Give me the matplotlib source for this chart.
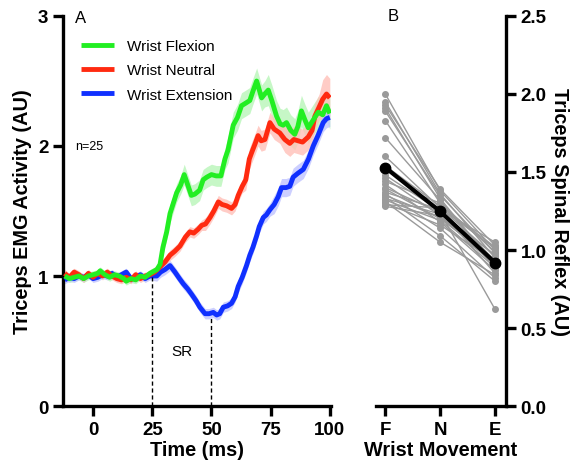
import numpy as np
import matplotlib
matplotlib.use("Agg")
import matplotlib.pyplot as plt

plt.rcParams['font.family'] = ['Liberation Sans', 'DejaVu Sans']

# ---------------- Panel A data (EMG time courses) ----------------
t_flex = [-12, -10, -8, -6, -4, -2, 0, 2, 3, 5, 7, 9, 11, 13, 14, 16, 18, 20, 22, 24,
          25, 27, 28.3, 29.5, 31.1, 32.5, 33.2, 35.3, 37, 38.5, 40, 41.5, 43, 45, 46.5, 48, 50, 52, 54, 55.7,
          57, 59.2, 61, 62.7, 64.5, 66.2, 67.5, 69.1, 71.2, 72.5, 74, 75.5, 77.5, 79, 80.3, 81.7, 83.5, 85.2, 86.5, 88,
          89.5, 90.9, 93, 95.1, 97, 98.6, 100]
v_flex = [1.00, 0.98, 0.99, 1.00, 0.98, 1.00, 1.01, 1.02, 1.04, 1.01, 0.99, 1.01, 1.00, 0.98, 0.96, 0.98, 0.97, 1.00, 0.99, 1.02,
          1.03, 1.05, 1.09, 1.22, 1.34, 1.48, 1.52, 1.64, 1.70, 1.78, 1.70, 1.62, 1.63, 1.66, 1.74, 1.76, 1.78, 1.77, 1.77, 1.90,
          1.97, 2.16, 2.22, 2.31, 2.33, 2.35, 2.42, 2.50, 2.37, 2.40, 2.43, 2.35, 2.23, 2.17, 2.16, 2.18, 2.12, 2.09, 2.15, 2.27,
          2.20, 2.14, 2.20, 2.26, 2.24, 2.31, 2.25]
sem_flex = [0.03] * 22 + [0.05, 0.06, 0.06, 0.07, 0.07, 0.07, 0.07, 0.08] + [0.08] * 10 + [0.10] * 10 + [0.12] * 17

t_neut = [-12, -10, -8, -6, -4, -2, 0, 2, 4, 6, 8, 10, 12, 14, 16, 18, 20, 22, 24,
          26, 28.3, 30.5, 32.5, 34.5, 36.7, 39, 40.9, 42.5, 44.4, 45.9, 47.5, 49.4, 51, 52.9, 54.5, 56.4, 58.5, 60, 61.3,
          63, 64.5, 66, 67, 68.5, 69.7, 71, 72.6, 74.7, 76.5, 78.9, 81, 83.1, 84.8, 86.6, 88.5, 90.9, 92.5, 93.7, 95.5,
          97, 98.6, 100]
v_neut = [1.02, 0.99, 1.03, 1.01, 0.98, 1.02, 0.99, 1.02, 1.00, 1.03, 1.00, 0.98, 0.97, 0.99, 0.97, 1.01, 0.98, 1.00, 1.01,
          1.03, 1.07, 1.11, 1.16, 1.19, 1.23, 1.30, 1.34, 1.33, 1.36, 1.39, 1.40, 1.45, 1.50, 1.57, 1.55, 1.54, 1.52, 1.55, 1.62,
          1.69, 1.74, 1.90, 1.95, 2.02, 2.08, 2.04, 2.05, 2.18, 2.13, 2.10, 2.05, 2.02, 2.05, 2.04, 2.03, 2.07, 2.12, 2.23, 2.30,
          2.36, 2.40, 2.37]
sem_neut = [0.03] * 20 + [0.04] * 10 + [0.05] * 10 + [0.08] * 10 + [0.10] * 9 + [0.15] * 3

t_ext = [-12, -10, -8, -6, -4, -2, 0, 2, 4, 6, 8, 10, 12, 14, 16, 18, 20, 22, 24,
         26.9, 28.5, 30.4, 32.5, 34.6, 36.5, 38.1, 40, 41.6, 43.5, 45.1, 47.3, 49, 50.8, 52.2, 53.5, 55, 56.8, 58.5, 60,
         61.3, 63, 64.8, 66.2, 67.5, 69.1, 70.2, 71.9, 73.2, 74.7, 76.5, 78.2, 79.6, 81.5, 83.1, 84.5, 86.5, 88.8, 91, 93,
         95, 97.2, 98.6, 100]
v_ext = [0.97, 0.99, 0.98, 1.00, 0.99, 1.01, 0.98, 0.99, 1.01, 1.00, 1.02, 0.99, 1.01, 1.03, 0.98, 0.99, 1.01, 0.98, 1.00,
         1.00, 1.03, 1.05, 1.08, 1.03, 0.98, 0.94, 0.90, 0.86, 0.81, 0.76, 0.71, 0.71, 0.72, 0.70, 0.71, 0.76, 0.77, 0.79, 0.84,
         0.92, 0.99, 1.08, 1.16, 1.22, 1.31, 1.38, 1.45, 1.47, 1.51, 1.55, 1.61, 1.68, 1.68, 1.69, 1.76, 1.79, 1.82, 1.90, 2.00,
         2.08, 2.18, 2.21, 2.22]
sem_ext = [0.03] * 19 + [0.04] * 20 + [0.05] * 10 + [0.07] * 14

series_labels = ["Wrist Flexion", "Wrist Neutral", "Wrist Extension"]
series_colors = ["#22ee22", "#ff2a10", "#1030ff"]
band_colors = ["#b8f5b8", "#ffc0b8", "#c0c4ff"]

# ---------------- Panel B data (spinal reflex per subject) ----------------
b_categories = ["F", "N", "E"]
refl_F = [2.00, 1.95, 1.93, 1.91, 1.89, 1.83, 1.72, 1.60, 1.54, 1.48, 1.46, 1.44, 1.42, 1.40, 1.39, 1.37, 1.36,
          1.35, 1.34, 1.33, 1.32, 1.31, 1.30, 1.29, 1.28]
refl_N = [1.38, 1.36, 1.39, 1.33, 1.35, 1.30, 1.32, 1.27, 1.28, 1.25, 1.22, 1.30, 1.18, 1.24, 1.20, 1.26, 1.14,
          1.21, 1.09, 1.23, 1.19, 1.05, 1.16, 1.27, 1.22]
refl_E = [1.00, 0.95, 1.03, 0.90, 0.98, 0.93, 0.88, 0.96, 1.02, 0.85, 0.91, 0.99, 0.87, 0.62, 0.94, 1.05, 0.82,
          0.92, 0.80, 0.97, 0.89, 0.84, 0.93, 1.01, 0.90]

# ---------------- Figure ----------------
fig = plt.figure(figsize=(5.72, 4.64), dpi=100)
axA = fig.add_axes([63 / 572, 1 - 407 / 464, (331 - 63) / 572, (407 - 17) / 464])
axB = fig.add_axes([376 / 572, 1 - 407 / 464, (506 - 376) / 572, (407 - 17) / 464])

spine_lw = 2.4
tick_kw = dict(width=2.4, length=7, labelsize=13.5)
label_fs = 14.3

# Panel A
for t, v, s, bc in zip([t_flex, t_neut, t_ext], [v_flex, v_neut, v_ext],
                       [sem_flex, sem_neut, sem_ext], band_colors):
    t = np.array(t); v = np.array(v); s = np.array(s)
    axA.fill_between(t, v - s, v + s, color=bc, alpha=0.8, lw=0, zorder=1)
lines = {}
for t, v, c, lab, z in zip([t_flex, t_neut, t_ext], [v_flex, v_neut, v_ext], series_colors, series_labels, [5, 4, 3]):
    ln, = axA.plot(t, v, color=c, lw=3.5, label=lab, zorder=z, solid_capstyle='butt')
    lines[lab] = ln

axA.set_xlim(-12.7, 100.5)
axA.set_ylim(0, 3)
axA.set_xticks([0, 25, 50, 75, 100])
axA.set_yticks([0, 1, 2, 3])
for sp in ['top', 'right']:
    axA.spines[sp].set_visible(False)
for sp in ['left', 'bottom']:
    axA.spines[sp].set_linewidth(spine_lw)
axA.tick_params(axis='both', direction='out', **tick_kw)
for lbl in axA.get_xticklabels() + axA.get_yticklabels():
    lbl.set_fontweight('bold')
axA.set_xlabel("Time (ms)", fontsize=label_fs, fontweight='bold', labelpad=2)
axA.set_ylabel("Triceps EMG Activity (AU)", fontsize=label_fs, fontweight='bold', labelpad=4)

# dashed markers
axA.plot([25, 25], [0, 0.99], color='black', lw=1, ls=(0, (3, 2)), zorder=6)
axA.plot([50, 50], [0, 0.69], color='black', lw=1, ls=(0, (3, 2)), zorder=6)
axA.text(37.5, 0.42, "SR", fontsize=11, ha='center', va='center')
axA.text(-7.5, 2.0, "n=25", fontsize=9, ha='left', va='center')
axA.text(-7.8, 2.99, "A", fontsize=12, ha='left', va='center')

axA.legend(handles=[lines[l] for l in series_labels], loc='upper left', bbox_to_anchor=(0.046, 0.957),
           frameon=False, fontsize=11, handlelength=2.15, handletextpad=0.85, labelspacing=0.68, borderaxespad=0)

# Panel B
xpos = np.arange(len(b_categories))
for f, n, e in zip(refl_F, refl_N, refl_E):
    axB.plot(xpos, [f, n, e], color='#9a9a9a', lw=1.0, marker='o', ms=4, mec='#9a9a9a', mfc='#9a9a9a', zorder=2)
means = [np.mean(refl_F), np.mean(refl_N), np.mean(refl_E)]
axB.plot(xpos, means, color='black', lw=3.0, marker='o', ms=7.5, zorder=5)

axB.set_xlim(-0.17, 2.2)
axB.set_ylim(0, 2.5)
axB.set_xticks(xpos)
axB.set_xticklabels(b_categories)
axB.set_yticks([0, 0.5, 1.0, 1.5, 2.0, 2.5])
axB.set_yticklabels(["0.0", "0.5", "1.0", "1.5", "2.0", "2.5"])
axB.yaxis.tick_right()
axB.yaxis.set_label_position('right')
for sp in ['top', 'left']:
    axB.spines[sp].set_visible(False)
for sp in ['right', 'bottom']:
    axB.spines[sp].set_linewidth(spine_lw)
axB.tick_params(axis='both', direction='out', **tick_kw)
for lbl in axB.get_xticklabels() + axB.get_yticklabels():
    lbl.set_fontweight('bold')
axB.set_xlabel("Wrist Movement", fontsize=label_fs, fontweight='bold', labelpad=2)
axB.set_ylabel("Triceps Spinal Reflex (AU)", fontsize=label_fs, fontweight='bold', rotation=270, labelpad=16)
axB.text(0.05, 2.5, "B", fontsize=12, ha='left', va='center')

fig.savefig("out.png", dpi=100)
